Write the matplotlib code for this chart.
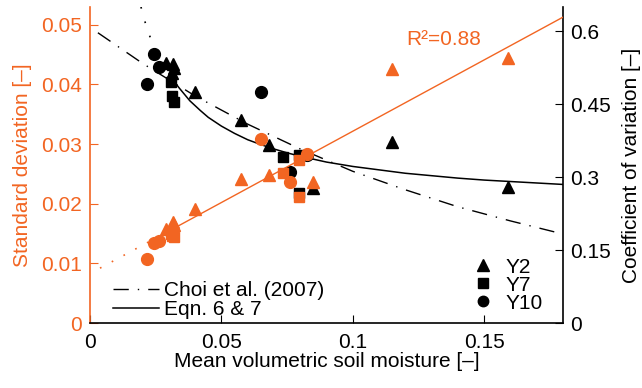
import matplotlib
matplotlib.use("Agg")
import matplotlib.pyplot as plt
from matplotlib.lines import Line2D
from matplotlib.ticker import FuncFormatter

plt.rcParams['font.family'] = ['Liberation Sans', 'DejaVu Sans']
plt.rcParams['font.size'] = 15

ORANGE = '#f26522'

# Y2 sites (triangles): mean moisture, standard deviation, coefficient of variation
y2_mean = [0.0289, 0.0316, 0.0318, 0.0312, 0.040, 0.0575, 0.068, 0.0849, 0.115, 0.159]
y2_sd = [0.0157, 0.0169, 0.0165, 0.0162, 0.0191, 0.0241, 0.0249, 0.0236, 0.0426, 0.0445]
y2_cv = [0.534, 0.532, 0.524, 0.514, 0.475, 0.417, 0.366, 0.277, 0.372, 0.279]

# Y7 sites (squares)
y7_mean = [0.0310, 0.0312, 0.0318, 0.0735, 0.0796, 0.0796]
y7_sd = [0.0149, 0.0146, 0.0144, 0.0251, 0.0274, 0.0212]
y7_cv = [0.495, 0.466, 0.454, 0.341, 0.345, 0.267]

# Y10 sites (circles)
y10_mean = [0.0217, 0.0244, 0.0263, 0.065, 0.0761, 0.0826]
y10_sd = [0.0107, 0.0134, 0.0137, 0.0309, 0.0236, 0.0283]
y10_cv = [0.491, 0.553, 0.526, 0.475, 0.310, 0.345]

# regression line of SD (read endpoints)
fit_x_dot = [0.0038, 0.032]
fit_sd_dot = [0.0092, 0.0159]
fit_x = [0.032, 0.18]
fit_sd = [0.0159, 0.0513]

# Choi et al. (2007) curve, CV
choi_x = [0.003, 0.02, 0.04, 0.06, 0.08, 0.10, 0.12, 0.14, 0.16, 0.18]
choi_cv = [0.597, 0.534, 0.467, 0.409, 0.358, 0.312, 0.274, 0.239, 0.210, 0.183]

# Eqn. 6 & 7 curve, CV
eqn_x_dot = [0.0194, 0.0206, 0.0221, 0.0236, 0.0255, 0.0275, 0.030, 0.032]
eqn_cv_dot = [0.650, 0.625, 0.600, 0.577, 0.560, 0.540, 0.516, 0.497]
eqn_x = [0.032, 0.034, 0.036, 0.038, 0.040, 0.042, 0.045, 0.0475, 0.050, 0.055,
         0.060, 0.065, 0.070, 0.075, 0.080, 0.085, 0.090, 0.100, 0.110, 0.120,
         0.130, 0.140, 0.150, 0.160, 0.170, 0.180]
eqn_cv = [0.497, 0.483, 0.470, 0.457, 0.447, 0.437, 0.423, 0.414, 0.405, 0.390,
          0.377, 0.367, 0.358, 0.350, 0.343, 0.337, 0.331, 0.322, 0.315, 0.308,
          0.303, 0.298, 0.294, 0.291, 0.288, 0.285]

fig = plt.figure(figsize=(6.42, 3.88), dpi=100)
ax = fig.add_axes([0.1402, 0.1675, 0.7368, 0.8145])
ax2 = ax.twinx()
ax.set_zorder(ax2.get_zorder() + 1)
ax.patch.set_visible(False)

# black: CV on the right axis
ax2.plot(choi_x, choi_cv, color='k', lw=1.0, dashes=(11, 6.5, 1, 6.5))
ax2.plot(eqn_x_dot, eqn_cv_dot, color='k', lw=1.2, dashes=(1, 8))
ax2.plot(eqn_x, eqn_cv, color='k', lw=1.1)
ax2.plot(y2_mean, y2_cv, '^', color='k', ms=9, ls='none')
ax2.plot(y7_mean, y7_cv, 's', color='k', ms=7.5, ls='none')
ax2.plot(y10_mean, y10_cv, 'o', color='k', ms=8.5, ls='none')

# orange: SD on the left axis
ax.plot(fit_x_dot, fit_sd_dot, color=ORANGE, lw=1.2, dashes=(1, 7))
ax.plot(fit_x, fit_sd, color=ORANGE, lw=1.0)
ax.plot(y2_mean, y2_sd, '^', color=ORANGE, ms=9, ls='none')
ax.plot(y7_mean, y7_sd, 's', color=ORANGE, ms=7.5, ls='none')
ax.plot(y10_mean, y10_sd, 'o', color=ORANGE, ms=8.5, ls='none')

ax.text(0.668, 0.896, 'R²=0.88', color=ORANGE, transform=ax.transAxes, va='center', ha='left')

ax.set_xlim(0, 0.18)
ax.set_ylim(0, 0.053)
ax2.set_ylim(0, 0.65)
ax.set_xticks([0, 0.05, 0.1, 0.15])
ax.set_yticks([0, 0.01, 0.02, 0.03, 0.04, 0.05])
ax2.set_yticks([0, 0.15, 0.3, 0.45, 0.6])
fmt = FuncFormatter(lambda v, p: '%g' % round(v, 4))
ax.xaxis.set_major_formatter(fmt)
ax.yaxis.set_major_formatter(fmt)
ax2.yaxis.set_major_formatter(fmt)

for a in (ax, ax2):
    a.spines['top'].set_visible(False)
ax.spines['right'].set_visible(False)
ax2.spines['left'].set_visible(False)
ax2.spines['bottom'].set_visible(False)
ax.spines['left'].set_color(ORANGE)
ax.spines['left'].set_linewidth(1.2)
ax.spines['bottom'].set_linewidth(1.2)
ax2.spines['right'].set_linewidth(1.2)

ax.tick_params(axis='x', direction='in', length=6, pad=7)
ax.tick_params(axis='y', direction='in', length=6, pad=6, colors=ORANGE)
ax2.tick_params(axis='y', direction='in', length=6, pad=5)

ax.set_xlabel('Mean volumetric soil moisture [–]', labelpad=0)
ax.set_ylabel('Standard deviation [–]', color=ORANGE, labelpad=6)
ax2.set_ylabel('Coefficient of variation [–]', labelpad=8)

# legends
line_handles = [Line2D([], [], color='k', lw=1.0, dashes=(11, 6.5, 1, 6.5)),
                Line2D([], [], color='k', lw=1.1)]
leg1 = ax.legend(line_handles, ['Choi et al. (2007)', 'Eqn. 6 & 7'], loc='lower left',
                 bbox_to_anchor=(0.025, -0.024), frameon=False, handlelength=2.2,
                 handletextpad=0.25, labelspacing=0.0, borderaxespad=0.15)
ax.add_artist(leg1)
mark_handles = [Line2D([], [], marker=m, color='k', ls='none', ms=s) for m, s in
                (('^', 8), ('s', 6.5), ('o', 7.5))]
ax.legend(mark_handles, ['Y2', 'Y7', 'Y10'], loc='lower right', bbox_to_anchor=(0.98, 0.0),
          frameon=False, handletextpad=0.6, labelspacing=-0.05, borderaxespad=0.1,
          handlelength=1.0)

fig.savefig('out.png', dpi=100)
plt.close('all')
